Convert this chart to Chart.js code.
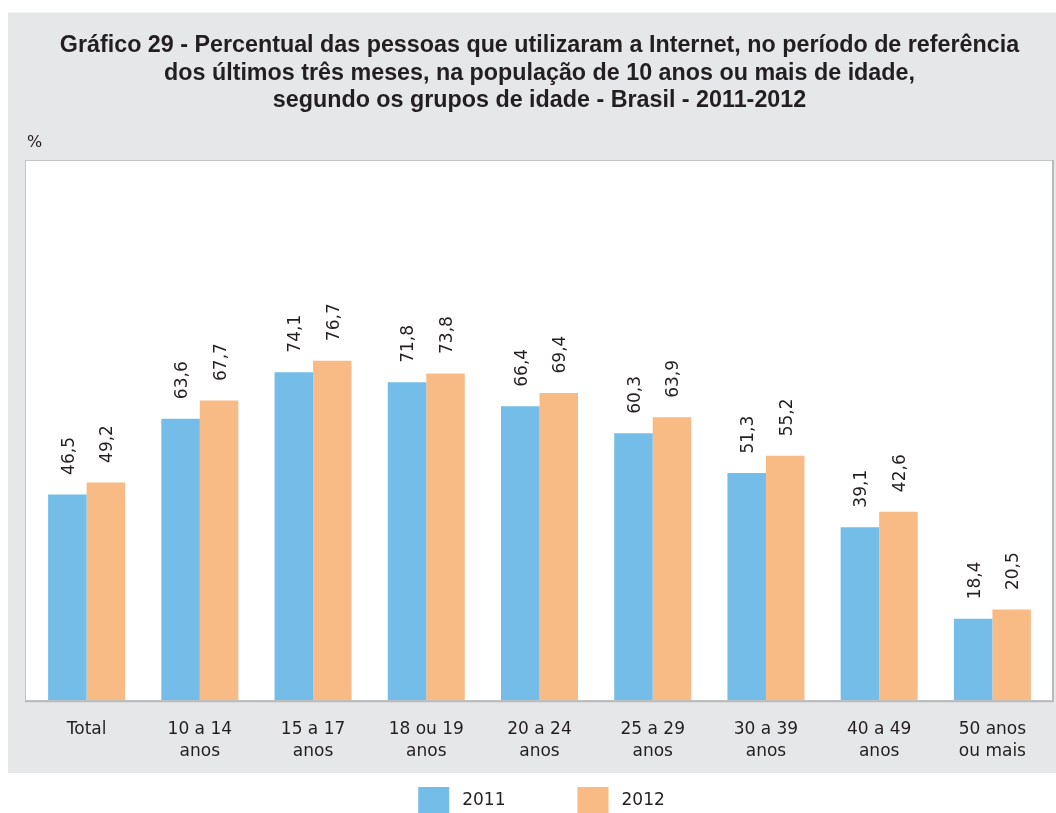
<!DOCTYPE html>
<html><head><meta charset="utf-8">
<script src="https://cdn.jsdelivr.net/npm/chart.js@4"></script>
<style>html,body{margin:0;padding:0;background:#fff;}</style>
</head><body>
<canvas id="c" width="1056" height="813" style="display:block;width:1056px;height:813px"></canvas>
<script>
const categories = [["Total"],["10 a 14","anos"],["15 a 17","anos"],["18 ou 19","anos"],["20 a 24","anos"],["25 a 29","anos"],["30 a 39","anos"],["40 a 49","anos"],["50 anos","ou mais"]];
const values2011 = [46.5, 63.6, 74.1, 71.8, 66.4, 60.3, 51.3, 39.1, 18.4];
const values2012 = [49.2, 67.7, 76.7, 73.8, 69.4, 63.9, 55.2, 42.6, 20.5];
const seriesNames = ["2011", "2012"];
const titleLines = [
  "Gráfico 29 - Percentual das pessoas que utilizaram a Internet, no período de referência",
  "dos últimos três meses, na população de 10 anos ou mais de idade,",
  "segundo os grupos de idade - Brasil - 2011-2012"
];
const unitLabel = "%";

const TEXT = '#231f20';
const FONT = 'DejaVu Sans';

const bgPlugin = {
  id: 'bg',
  beforeDraw(chart) {
    const ctx = chart.ctx;
    ctx.save();
    ctx.fillStyle = '#ffffff';
    ctx.fillRect(0, 0, chart.width, chart.height);
    ctx.fillStyle = '#e6e7e8';
    ctx.fillRect(8, 12.5, chart.width - 8, 773 - 12.5);
    const a = chart.chartArea;
    const l = 25, r = 1053, t = a.top, b = a.bottom;
    ctx.fillStyle = '#ffffff';
    ctx.fillRect(l, t, r - l, b - t);
    ctx.strokeStyle = '#c3c4c6';
    ctx.lineWidth = 1;
    ctx.strokeRect(l + 0.5, t + 0.5, r - l - 1, b - t);
    ctx.strokeStyle = '#b9babc';
    ctx.lineWidth = 2;
    ctx.beginPath();
    ctx.moveTo(r, t); ctx.lineTo(r, b + 1); ctx.lineTo(l, b + 1);
    ctx.stroke();
    ctx.fillStyle = TEXT;
    ctx.font = '16px ' + FONT;
    ctx.textBaseline = 'middle';
    ctx.textAlign = 'left';
    ctx.fillText(unitLabel, 27, 143);
    ctx.restore();
  }
};

const labelPlugin = {
  id: 'vals',
  afterDatasetsDraw(chart) {
    const ctx = chart.ctx;
    ctx.save();
    ctx.fillStyle = TEXT;
    ctx.font = '17px ' + FONT;
    ctx.textAlign = 'left';
    ctx.textBaseline = 'middle';
    chart.data.datasets.forEach((ds, di) => {
      chart.getDatasetMeta(di).data.forEach((el, i) => {
        const txt = ds.data[i].toFixed(1).replace('.', ',');
        ctx.save();
        ctx.translate(el.x + 2, el.y - 19.5);
        ctx.rotate(-Math.PI / 2);
        ctx.fillText(txt, 0, 0);
        ctx.restore();
      });
    });
    ctx.restore();
  }
};

const legendPlugin = {
  id: 'customLegend',
  afterDraw(chart) {
    const ctx = chart.ctx;
    ctx.save();
    ctx.font = '17px ' + FONT;
    ctx.textBaseline = 'middle';
    ctx.textAlign = 'left';
    const boxW = 31, boxH = 26, gapText = 13, gapItem = 72;
    const items = chart.data.datasets.map(ds => ({ label: ds.label, color: ds.backgroundColor, w: boxW + gapText + ctx.measureText(ds.label).width }));
    const total = items.reduce((s, it) => s + it.w, 0) + gapItem * (items.length - 1);
    let x = 541.5 - total / 2;
    const yTop = 787, yMid = 801;
    items.forEach(it => {
      ctx.fillStyle = it.color;
      ctx.fillRect(x, yTop, boxW, boxH);
      ctx.fillStyle = TEXT;
      ctx.fillText(it.label, x + boxW + gapText, yMid);
      x += it.w + gapItem;
    });
    ctx.restore();
  }
};

new Chart(document.getElementById('c'), {
  type: 'bar',
  data: {
    labels: categories,
    datasets: [
      { label: seriesNames[0], data: values2011, backgroundColor: '#73bde8', borderWidth: 0, categoryPercentage: 0.68, barPercentage: 1 },
      { label: seriesNames[1], data: values2012, backgroundColor: '#f9bb85', borderWidth: 0, categoryPercentage: 0.68, barPercentage: 1 }
    ]
  },
  options: {
    responsive: false,
    animation: false,
    devicePixelRatio: 1,
    layout: { padding: { left: 30, right: 7, top: 0, bottom: 32.5 } },
    plugins: {
      legend: { display: false },
      tooltip: { enabled: false },
      title: {
        display: true,
        text: titleLines,
        color: TEXT,
        font: { family: 'Liberation Sans', size: 23.3, weight: 'bold', lineHeight: 1.185 },
        padding: { top: 32, bottom: 45.2 }
      }
    },
    scales: {
      x: {
        offset: true,
        grid: { display: false, drawTicks: false },
        border: { display: false },
        ticks: { color: TEXT, font: { family: FONT, size: 17, lineHeight: 1.3 }, padding: 18, maxRotation: 0, autoSkip: false }
      },
      y: { display: false, min: 0, max: 122 }
    }
  },
  plugins: [bgPlugin, labelPlugin, legendPlugin]
});
</script>
</body></html>
